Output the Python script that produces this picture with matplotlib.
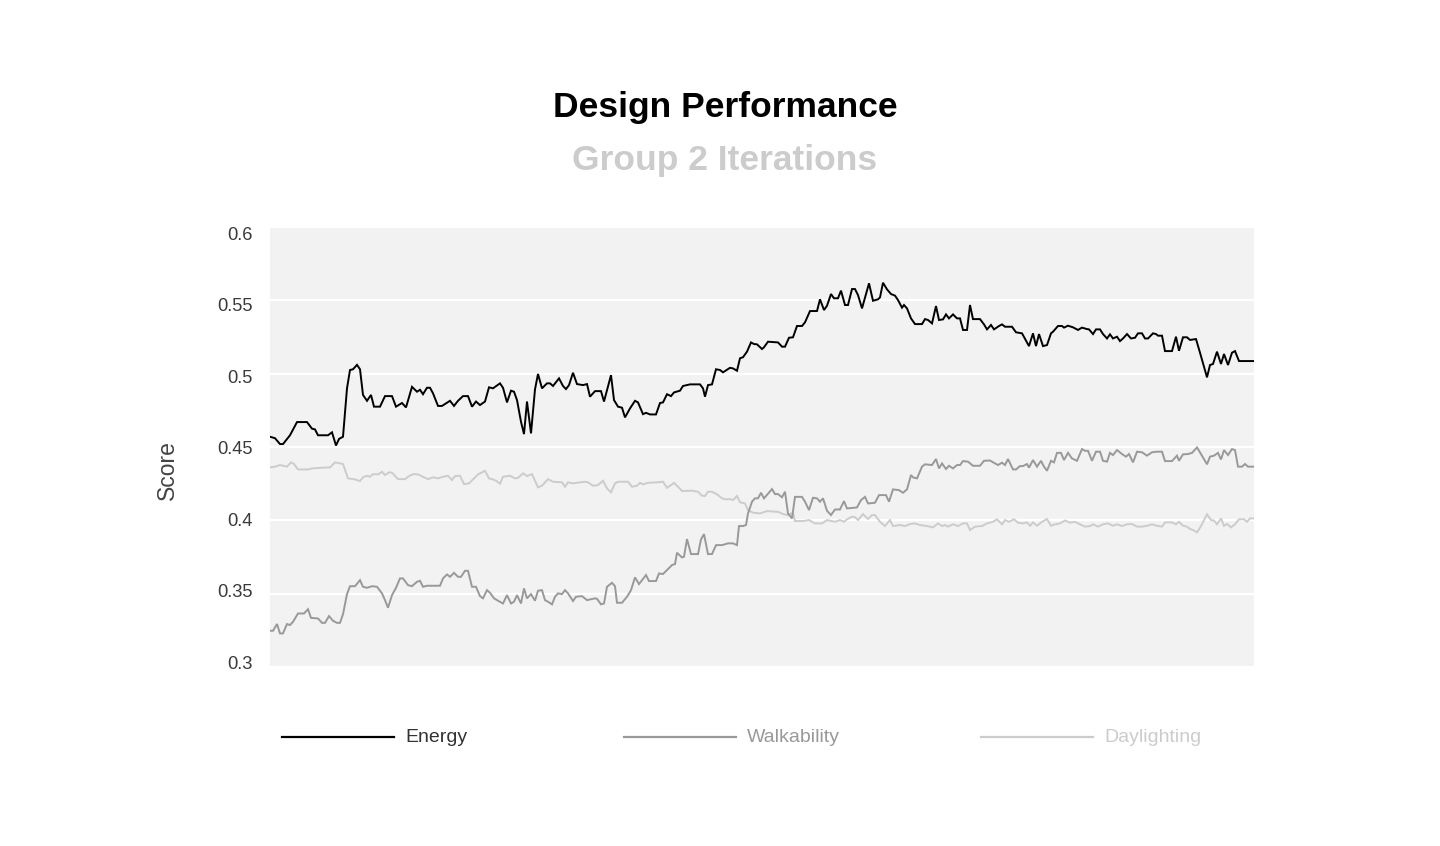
import matplotlib
matplotlib.use("Agg")
import matplotlib.pyplot as plt
from matplotlib.lines import Line2D
from matplotlib import transforms

plt.rcParams['font.family'] = ['Liberation Sans', 'DejaVu Sans']

# ---------------- data ----------------
energy_iter = [0, 1.25, 2.5, 3.25, 5, 6.75, 9.25, 10.5, 11.25, 12, 14.5, 15.5, 16.5, 17.25, 18.25, 19.25,
               20, 20.75, 21.75, 22.5, 23.25, 24.25, 25.25, 26, 27.5, 28.75, 30.5, 31.5, 33, 34, 35.5,
               36.75, 37.5, 38.25, 39.25, 40, 40.75, 42, 43, 45, 46, 47, 48.25, 49.5, 50.5, 51.5, 52.5,
               53.75, 54.75, 55.75, 57.5, 58.25, 59.25, 60.25, 61, 61.75, 62.75, 63.5, 64.25, 65.25,
               66.25, 67, 68, 69.25, 70, 70.75, 72.25, 73.25, 74, 74.75, 75.75, 76.75, 78.25, 79.25, 80,
               81.25, 82.75, 83.5, 85.25, 86, 87, 88, 88.75, 90, 91.25, 92, 93.25, 94, 95, 96.5, 97.5,
               98.25, 99.25, 100.25, 101, 102.5, 103.25, 105, 107.5, 108.25, 108.75, 109.5, 110.5,
               111.5, 112.5, 113.25, 115, 115.75, 116.75, 117.5, 118.25, 119.25, 120.25, 121, 121.75,
               123, 123.5, 124.5, 127, 128, 128.75, 129.75, 130.75, 131.75, 133, 133.75, 135, 136.75,
               137.5, 138.5, 139.25, 140.25, 141, 142, 142.75, 143.75, 144.5, 145.5, 146.25, 147, 148,
               149.75, 150.75, 152, 152.5, 153.25, 154.25, 155.25, 156.25, 157, 158, 158.5, 159.25,
               160.25, 161.25, 163, 163.75, 164.5, 165.5, 166.5, 167.25, 168.25, 169, 169.75, 170.75,
               171.75, 172.5, 173.25, 174.25, 175, 175.75, 177.5, 178.5, 179.25, 180.25, 181, 182.25,
               183, 183.75, 185.5, 186.5, 188, 189.75, 190.75, 191.5, 192.25, 193.25, 194.25, 195.25,
               195.75, 197, 198, 198.5, 199.5, 200.75, 202, 203, 204.25, 204.75, 205.75, 206.5, 207.5,
               208.25, 209.25, 210, 210.75, 211.75, 212.5, 213.25, 214.25, 215.25, 216.25, 217, 218,
               218.75, 219.5, 220.75, 221.5, 222, 223, 223.75, 225.5, 226.5, 227.25, 228.25, 229.25,
               230, 231.5, 232.5, 234.25, 235, 235.75, 236.75, 237.75, 238.5, 239.5, 240.5, 241.25,
               242.25, 246]
energy = [0.457, 0.456, 0.452, 0.452, 0.458, 0.467, 0.467, 0.4625, 0.462, 0.458, 0.458, 0.460, 0.451,
          0.4555, 0.457, 0.490, 0.5025, 0.503, 0.506, 0.503, 0.4855, 0.4815, 0.4855, 0.4775, 0.4775,
          0.4847, 0.4847, 0.4775, 0.480, 0.477, 0.491, 0.4877, 0.489, 0.486, 0.4904, 0.4904, 0.4866,
          0.478, 0.478, 0.4815, 0.478, 0.4815, 0.4847, 0.4847, 0.4775, 0.481, 0.4786, 0.481, 0.4907,
          0.490, 0.4934, 0.4904, 0.4804, 0.4884, 0.4877, 0.482, 0.4672, 0.4588, 0.481, 0.4593, 0.4893,
          0.4998, 0.490, 0.4934, 0.4934, 0.4916, 0.4968, 0.4916, 0.4895, 0.4922, 0.5006, 0.4929,
          0.4922, 0.4929, 0.4843, 0.4881, 0.4881, 0.481, 0.499, 0.482, 0.4775, 0.4768, 0.4702, 0.4763,
          0.4815, 0.4804, 0.4724, 0.4733, 0.4722, 0.4722, 0.480, 0.4804, 0.486, 0.4847, 0.4872,
          0.4884, 0.4916, 0.4927, 0.4927, 0.490, 0.4843, 0.4922, 0.4927, 0.503, 0.5025, 0.5009,
          0.504, 0.5036, 0.502, 0.5105, 0.5112, 0.515, 0.5213, 0.5202, 0.520, 0.5168, 0.518, 0.5218,
          0.5213, 0.5184, 0.5184, 0.5245, 0.5248, 0.5325, 0.5325, 0.535, 0.5427, 0.5427, 0.5507,
          0.5434, 0.5463, 0.5543, 0.5514, 0.5514, 0.5566, 0.5468, 0.5468, 0.5577, 0.5577, 0.5536,
          0.5445, 0.5616, 0.5497, 0.5507, 0.5520, 0.562, 0.5575, 0.5543, 0.5532, 0.5502, 0.545,
          0.5468, 0.5445, 0.5377, 0.5338, 0.5338, 0.5372, 0.5366, 0.5343, 0.5461, 0.5366, 0.537,
          0.5404, 0.5377, 0.5404, 0.5377, 0.5377, 0.5298, 0.5298, 0.5468, 0.5372, 0.5372, 0.5336,
          0.5302, 0.5332, 0.5302, 0.5325, 0.5336, 0.532, 0.532, 0.5282, 0.5275, 0.5188, 0.5275,
          0.5188, 0.527, 0.5188, 0.5195, 0.5275, 0.5286, 0.5325, 0.5325, 0.5314, 0.5327, 0.5316,
          0.5298, 0.5314, 0.5304, 0.5302, 0.527, 0.5302, 0.5302, 0.527, 0.524, 0.5268, 0.524, 0.5252,
          0.5222, 0.524, 0.527, 0.524, 0.5245, 0.5275, 0.5275, 0.524, 0.524, 0.5275, 0.527, 0.5259,
          0.5259, 0.5154, 0.5154, 0.5252, 0.5156, 0.5248, 0.5248, 0.523, 0.5236, 0.5143, 0.4975,
          0.5059, 0.5066, 0.515, 0.5066, 0.5134, 0.5059, 0.5143, 0.5154, 0.5086, 0.5086]

walk_iter = [0, 0.75, 1.75, 2.5, 3.25, 4.25, 5, 5.75, 7, 8.5, 9.5, 10.25, 12, 13, 13.75, 14.75, 15.75,
             16.75, 17.5, 18.25, 19.25, 20, 21.25, 22.5, 23.25, 24.25, 25.5, 26.75, 28, 28.75, 29.5,
             30.5, 31.5, 32.5, 33.25, 34.5, 35.5, 36.75, 37.5, 38.25, 39.25, 42.5, 43.25, 44.25, 45,
             46, 47, 47.75, 48.75, 49.5, 50.5, 51.5, 52.5, 53.25, 54.25, 55, 56, 57, 58.25, 59.25,
             60.25, 61, 61.75, 62.75, 63.5, 64.25, 65.25, 66.25, 67, 68, 68.75, 69.5, 70.5, 71.25, 72,
             73, 73.75, 74.5, 75.75, 76.5, 78, 79.25, 81.25, 81.75, 82.75, 83.5, 84.25, 85.5, 86.25,
             86.75, 88, 89.25, 90.25, 91.25, 92.25, 94, 94.75, 96.5, 97.25, 98.25, 99.25, 100.5,
             101.25, 101.75, 103, 103.5, 104.25, 105.25, 107, 107.75, 108.5, 109.5, 110.5, 111.5, 113,
             114.5, 115.75, 116.75, 117.25, 118.25, 119, 119.5, 120.5, 121.25, 122, 122.75, 123.5,
             125.5, 126.25, 127, 128, 128.75, 129.5, 130.5, 131.25, 133, 133.75, 134.75, 135.75,
             136.75, 137.5, 138.25, 139.25, 140.25, 141.25, 142.5, 143.5, 144.25, 146.75, 147.75,
             148.75, 149.5, 151.25, 152.25, 154, 154.75, 155.75, 157.25, 158.25, 159.25, 160.25,
             160.75, 161.75, 163, 163.75, 165.5, 166.5, 167.25, 168, 169, 169.75, 170.75, 171.75,
             172.5, 173.25, 174.5, 175.75, 177.5, 178.5, 180, 181, 182, 183, 183.75, 184.5, 185.75,
             186.5, 187.5, 188.25, 189.25, 189.75, 190.75, 191.75, 192.75, 193.5, 194.25, 195.25, 196,
             196.75, 197.75, 198.5, 199.5, 200.5, 201.75, 203, 203.75, 204.5, 205.5, 206.5, 207.5,
             208.25, 209.25, 210, 210.75, 211.75, 213, 214, 214.75, 215.75, 216.75, 218, 219.25,
             220.5, 221.75, 223, 223.75, 225.5, 226.75, 227.25, 228.25, 229.5, 230.5, 231.75, 232.75,
             234.25, 235, 236, 237, 237.75, 238.5, 239.5, 240.5, 241.25, 242, 243, 243.75, 244.5, 246]
walkability = [0.3247, 0.3247, 0.3293, 0.3229, 0.3229, 0.3293, 0.3286, 0.3308, 0.3365, 0.3365, 0.3394,
               0.3335, 0.3331, 0.3301, 0.3301, 0.3347, 0.3315, 0.3301, 0.3301, 0.336, 0.3497, 0.3551,
               0.3551, 0.3592, 0.3547, 0.354, 0.3551, 0.3547, 0.3502, 0.3456, 0.3404, 0.349, 0.354,
               0.3604, 0.3604, 0.3558, 0.3551, 0.3581, 0.3588, 0.3547, 0.3554, 0.3554, 0.3604, 0.3631,
               0.3615, 0.3642, 0.3615, 0.3615, 0.3656, 0.3656, 0.3547, 0.3547, 0.3483, 0.3468, 0.3524,
               0.3506, 0.3468, 0.3452, 0.3433, 0.349, 0.3433, 0.3445, 0.349, 0.3433, 0.3536, 0.3468,
               0.3497, 0.3452, 0.352, 0.3524, 0.3456, 0.3445, 0.3427, 0.3479, 0.3502, 0.3497, 0.3524,
               0.3502, 0.345, 0.3479, 0.3483, 0.3456, 0.3468, 0.3465, 0.3427, 0.3433, 0.3547, 0.3574,
               0.3551, 0.3438, 0.3438, 0.3479, 0.3524, 0.3611, 0.3565, 0.3627, 0.3586, 0.3586, 0.3638,
               0.3634, 0.3661, 0.3695, 0.3702, 0.3779, 0.3747, 0.3752, 0.3872, 0.377, 0.377, 0.387,
               0.3906, 0.377, 0.377, 0.3831, 0.3831, 0.3843, 0.3843, 0.3831, 0.3961, 0.3961, 0.3968,
               0.4047, 0.4127, 0.415, 0.415, 0.4188, 0.415, 0.4213, 0.4179, 0.4179, 0.4157, 0.4195,
               0.4047, 0.4013, 0.416, 0.416, 0.4127, 0.407, 0.4154, 0.415, 0.4127, 0.415, 0.4065,
               0.4036, 0.4074, 0.4074, 0.4131, 0.4081, 0.4088, 0.4138, 0.416, 0.4115, 0.412, 0.4172,
               0.4172, 0.4127, 0.4211, 0.4206, 0.4188, 0.4211, 0.4309, 0.4293, 0.4286, 0.4366, 0.4382,
               0.4377, 0.4418, 0.4354, 0.4388, 0.435, 0.4372, 0.4354, 0.4377, 0.4377, 0.4404, 0.44,
               0.4372, 0.4372, 0.4406, 0.4408, 0.4392, 0.4377, 0.4393, 0.4377, 0.4418, 0.4347, 0.4347,
               0.437, 0.437, 0.4384, 0.4359, 0.4411, 0.4366, 0.4406, 0.4366, 0.4338, 0.4406, 0.4395,
               0.446, 0.446, 0.4411, 0.446, 0.4422, 0.4406, 0.4486, 0.4474, 0.4474, 0.4406, 0.4468,
               0.4468, 0.4406, 0.44, 0.446, 0.4445, 0.4479, 0.4452, 0.4434, 0.4452, 0.4395, 0.4468,
               0.4464, 0.4441, 0.4464, 0.4468, 0.4468, 0.4404, 0.4404, 0.4441, 0.4406, 0.445, 0.4452,
               0.446, 0.4497, 0.4452, 0.4382, 0.4434, 0.4441, 0.446, 0.4415, 0.4479, 0.4445, 0.4486,
               0.4479, 0.4366, 0.4366, 0.4384, 0.4366, 0.4366]

day_iter = [0, 1.25, 2.5, 4.25, 5.25, 6, 7, 9.5, 10.5, 12.5, 15, 16.25, 17.5, 18.25, 19.5, 21.25, 22.5,
            23.25, 24.25, 25, 25.75, 27, 28, 28.75, 29.75, 30.5, 32, 33.75, 34.5, 35.75, 37, 38.25,
            39.5, 40.75, 42, 43.25, 44.5, 45.5, 46.25, 47.5, 48.5, 49.75, 50.75, 52, 53.75, 54.75,
            55.75, 56.5, 57.5, 58.25, 60, 61.25, 62, 63.25, 64.25, 65.5, 67, 68, 69.5, 70.75, 73,
            73.75, 74.5, 75.75, 77.5, 78.75, 79.5, 80.75, 82, 83.25, 84.25, 85.25, 86.25, 87, 89.5,
            90.5, 91.75, 92.5, 93.25, 94.5, 96.75, 98.25, 99.25, 100.5, 101, 102, 103, 105.5, 107,
            108, 108.75, 109.5, 110.5, 111.75, 113, 114, 115, 115.75, 116.75, 117.5, 118.75, 119.5,
            120.75, 122.5, 124.25, 127, 128.25, 129.5, 130.75, 131.25, 133.25, 134.75, 136.25, 138,
            139.25, 141.25, 142.5, 143.5, 144.25, 145.5, 146.25, 147, 148.25, 149.5, 150.5, 151.25,
            152.5, 153.75, 155, 155.75, 157.5, 158.75, 160, 161.25, 162.5, 164.25, 165.75, 167, 168,
            168.75, 169.5, 170.75, 172, 173.25, 174.25, 175, 176.25, 178, 179.25, 180.75, 181.75,
            183, 183.75, 184.75, 186, 187, 188.25, 189.25, 190, 190.75, 191.75, 193, 194.25, 195.25,
            196.25, 197.5, 198.75, 200, 201.25, 202.5, 203.75, 205, 205.75, 207, 208.25, 209.5,
            210.75, 211.75, 213, 214.25, 215.5, 216.75, 218, 219.25, 220.5, 221.75, 223, 223.75,
            225.5, 226.5, 227.25, 228.25, 229.25, 230, 230.75, 231.75, 232.75, 234.25, 235.25, 236,
            236.75, 237.75, 238.5, 239.25, 240.25, 241.25, 242.25, 243.5, 244.25, 245, 246]
daylighting = [0.4361, 0.4366, 0.4377, 0.4366, 0.4395, 0.4384, 0.4347, 0.4347, 0.4354, 0.4358, 0.4361,
               0.4395, 0.4388, 0.4384, 0.4286, 0.4279, 0.4268, 0.4293, 0.4304, 0.4297, 0.4315, 0.4313,
               0.4331, 0.4309, 0.4327, 0.4325, 0.4281, 0.4281, 0.4297, 0.4315, 0.4313, 0.4297, 0.4281,
               0.4293, 0.4286, 0.4297, 0.4304, 0.4275, 0.4302, 0.4304, 0.4247, 0.4252, 0.4279, 0.4313,
               0.4338, 0.4286, 0.4279, 0.427, 0.4250, 0.4297, 0.4304, 0.4286, 0.4290, 0.432, 0.4302,
               0.4315, 0.4225, 0.4236, 0.4281, 0.4263, 0.4259, 0.4229, 0.4259, 0.4252, 0.4259, 0.4263,
               0.4259, 0.4236, 0.424, 0.427, 0.4218, 0.4191, 0.4252, 0.4263, 0.4263, 0.4229, 0.4236,
               0.4256, 0.4245, 0.4256, 0.4259, 0.4263, 0.4222, 0.4245, 0.4256, 0.4229, 0.42, 0.4202,
               0.4195, 0.4168, 0.4166, 0.4195, 0.4195, 0.4177, 0.415, 0.4143, 0.4145, 0.4138, 0.4166,
               0.4123, 0.4115, 0.407, 0.4052, 0.4047, 0.4063, 0.4058, 0.4043, 0.4036, 0.4052, 0.3995,
               0.3995, 0.4002, 0.3979, 0.3979, 0.4002, 0.399, 0.4002, 0.399, 0.4007, 0.4025, 0.4022,
               0.4002, 0.4043, 0.4009, 0.4036, 0.4036, 0.399, 0.3961, 0.4002, 0.3961, 0.3968, 0.3961,
               0.3975, 0.3979, 0.3968, 0.3961, 0.3952, 0.3979, 0.3961, 0.3968, 0.3957, 0.3973, 0.3961,
               0.3979, 0.3979, 0.3934, 0.3957, 0.3961, 0.3979, 0.399, 0.4007, 0.3973, 0.4002, 0.399,
               0.4007, 0.3984, 0.3979, 0.3986, 0.3963, 0.3986, 0.3963, 0.399, 0.4009, 0.3963, 0.3973,
               0.3979, 0.3999, 0.3984, 0.399, 0.3973, 0.3957, 0.3961, 0.3973, 0.3957, 0.3973, 0.3979,
               0.3963, 0.3973, 0.3961, 0.3973, 0.3975, 0.3957, 0.3957, 0.3963, 0.3973, 0.3963, 0.3957,
               0.3986, 0.3986, 0.3973, 0.399, 0.3963, 0.3957, 0.3941, 0.3934, 0.3918, 0.3961, 0.4041,
               0.4002, 0.3999, 0.3973, 0.4013, 0.3963, 0.3975, 0.3952, 0.3973, 0.4007, 0.4007, 0.399,
               0.4013, 0.4013]

series_names = ["Energy", "Walkability", "Daylighting"]
y_ticks = [0.3, 0.35, 0.4, 0.45, 0.5, 0.55, 0.6]
y_tick_labels = ["0.3", "0.35", "0.4", "0.45", "0.5", "0.55", "0.6"]

title = "Design Performance"
subtitle = "Group 2 Iterations"
y_label = "Score"

# ---------------- styling ----------------
line_colors = ["#000000", "#999999", "#cccccc"]
legend_text_colors = ["#333333", "#999999", "#cccccc"]

fig = plt.figure(figsize=(14.4, 8.46), dpi=100)
fig.patch.set_facecolor("white")
ax = fig.add_axes([270 / 1440, 179 / 846, 984 / 1440, 440 / 846])
ax.set_facecolor("#f2f2f2")

series = [(energy_iter, energy), (walk_iter, walkability), (day_iter, daylighting)]
for (xs, ys), c in zip(reversed(series), reversed(line_colors)):
    ax.plot(xs, ys, color=c, lw=1.4, solid_joinstyle="miter", zorder=3)

ax.set_xlim(0, 246)
ax.set_ylim(0.3, 0.6)
ax.set_xticks([])
ax.set_yticks(y_ticks)
ax.yaxis.grid(True, color="white", lw=1.6, zorder=1)
ax.set_axisbelow(True)
ax.tick_params(axis="y", length=0, labelleft=False)
for s in ax.spines.values():
    s.set_visible(False)

# tick labels (slightly compressed toward the centre, as in the reference)
trans = transforms.blended_transform_factory(ax.transAxes, ax.transData)
for v, lab in zip(y_ticks, y_tick_labels):
    ypos = 0.302 + (v - 0.3) * 0.975
    ax.text(-0.0175, ypos, lab, transform=trans, ha="right", va="center",
            fontsize=13.2, color="#3a3a3a")

fig.text(167 / 1440, 1 - 470 / 846, y_label, rotation=90, ha="center", va="center",
         fontsize=16.5, color="#444444")

fig.text(725 / 1440, 1 - 107 / 846, title, ha="center", va="center",
         fontsize=25.5, fontweight="bold", color="#000000")
fig.text(725 / 1440, 1 - 160 / 846, subtitle, ha="center", va="center",
         fontsize=25.5, fontweight="bold", color="#cccccc")

# legend
leg_line_x = [282, 624, 981]
leg_y = 1 - 737 / 846
for name, lx, lc, tc in zip(series_names, leg_line_x, line_colors, legend_text_colors):
    fig.add_artist(Line2D([lx / 1440, (lx + 112) / 1440], [leg_y, leg_y],
                          transform=fig.transFigure, color=lc, lw=1.6))
    fig.text((lx + 123) / 1440, leg_y, name, ha="left", va="center",
             fontsize=14, color=tc)

fig.savefig("out.png", dpi=100, facecolor="white")
